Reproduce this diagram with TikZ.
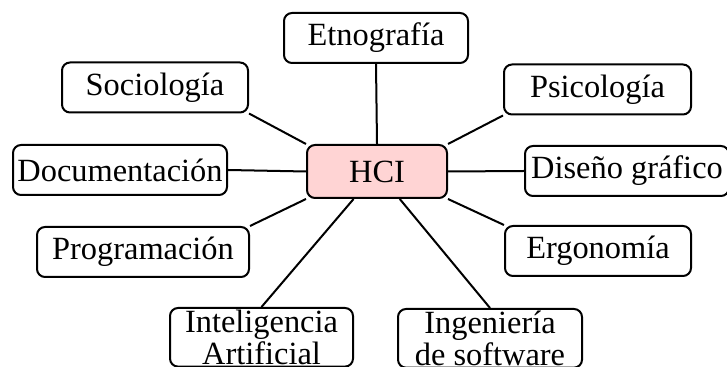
\documentclass[tikz,border=0pt]{standalone}
\usepackage{fontspec}
\setmainfont{Liberation Serif}
\usepackage{tikz}

\begin{document}
\begin{tikzpicture}[x=0.5pt,y=-0.5pt]
\tikzstyle{every node}=[draw, rounded corners=4pt, line width=1pt, minimum height=25pt, inner sep=2pt, align=center, font=\fontsize{16.2}{14.3}\selectfont]
\tikzstyle{hcibox}=[fill=red!17, minimum width=70pt, minimum height=26.5pt]
\tikzstyle{twoline}=[anchor=north, inner ysep=1pt]
\useasboundingbox (0,0) rectangle (727,367);
\draw (377,171.5) node (hci) [hcibox] {HCI};
\draw (376,38) node (etn) [minimum width=92pt] {Etnografía};
\draw (155,87.5) node (soc) [minimum width=93pt] {Sociología};
\draw (597.5,89.5) node (psi) [minimum width=93.5pt] {Psicología};
\draw (120,170) node (doc) [minimum width=107pt] {Documentación};
\draw (627,171) node (dis) [minimum width=102pt] {Diseño gráfico};
\draw (143,252) node (prog) [minimum width=106pt] {Programación};
\draw (598,251) node (erg) [minimum width=93pt] {Ergonomía};
\draw (261.5,307) node (ia) [twoline, minimum width=91.5pt] {Inteligencia\\Artificial};
\draw (490,308) node (ing) [twoline, minimum width=92pt] {Ingeniería\\de software};
\draw[line width=1pt] (hci.north) -- (etn.south);
\draw[line width=1pt] (hci.north west) -- (soc.south east);
\draw[line width=1pt] (hci.north east) -- (psi.south west);
\draw[line width=1pt] (hci.west) -- (doc.east);
\draw[line width=1pt] (hci.east) -- (dis.west);
\draw[line width=1pt] (hci.south west) -- (prog.north east);
\draw[line width=1pt] (hci.south east) -- (erg.north west);
\draw[line width=1pt] (hci) -- (ia.north);
\draw[line width=1pt] (hci) -- (ing.north);
\end{tikzpicture}
\end{document}
